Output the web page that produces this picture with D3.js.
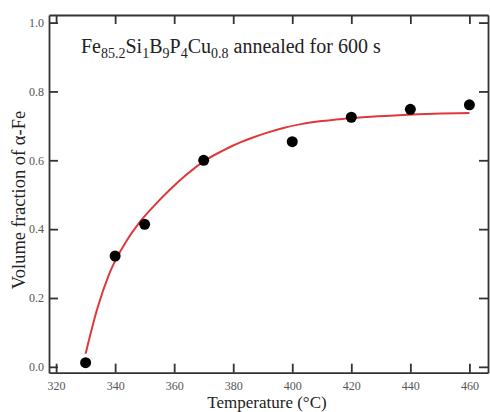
<!DOCTYPE html>
<html>
<head>
<meta charset="utf-8">
<script src="https://cdn.jsdelivr.net/npm/d3@7"></script>
<style>
  body { margin: 0; background: #fff; }
  svg { display: block; }
  text { font-family: "Liberation Serif", "Times New Roman", Times, serif; }
  .tick text { font-size: 12px; fill: #555; }
</style>
</head>
<body>
<svg id="chart" width="490" height="412"></svg>
<script>
// measured points (temperature in °C, volume fraction of alpha-Fe)
const temps = [330, 340, 350, 370, 400, 420, 440, 460]
const fractions = [0.012, 0.322, 0.414, 0.600, 0.654, 0.725, 0.748, 0.761]

// fitted curve
const fitTemps = [330, 334, 338, 344, 348, 353, 358, 364, 370, 376, 380, 386, 391, 397, 403, 410, 418, 425, 436, 448, 460]
const fitValues = [0.038, 0.17, 0.27, 0.368, 0.417, 0.466, 0.510, 0.557, 0.597, 0.626, 0.643, 0.664, 0.679, 0.694, 0.705, 0.714, 0.721, 0.726, 0.731, 0.735, 0.737]

const xTicks = [320, 340, 360, 380, 400, 420, 440, 460]
const yTicks = [0.0, 0.2, 0.4, 0.6, 0.8, 1.0]

const svg = d3.select('#chart')
const plotLeft = 49
const plotRight = 488
const plotTop = 15
const plotBottom = 372.7

const x = d3.scaleLinear().domain([317.6, 466.3]).range([plotLeft, plotRight])
const y = d3.scaleLinear().domain([-0.017, 1.022]).range([plotBottom, plotTop])

// ticks on all four sides, pointing inward
svg.append('g')
  .attr('transform', `translate(0,${plotBottom})`)
  .call(d3.axisBottom(x).tickValues(xTicks).tickSizeInner(-9).tickSizeOuter(0).tickPadding(9).tickFormat(d3.format('d')))
svg.append('g')
  .attr('transform', `translate(0,${plotTop})`)
  .call(d3.axisTop(x).tickValues(xTicks).tickSizeInner(-9).tickSizeOuter(0).tickFormat(''))
svg.append('g')
  .attr('transform', `translate(${plotLeft},0)`)
  .call(d3.axisLeft(y).tickValues(yTicks).tickSizeInner(-9).tickSizeOuter(0).tickPadding(5).tickFormat(d3.format('.1f')))
svg.append('g')
  .attr('transform', `translate(${plotRight},0)`)
  .call(d3.axisRight(y).tickValues(yTicks).tickSizeInner(-9).tickSizeOuter(0).tickFormat(''))

svg.selectAll('.domain').attr('stroke', '#333').attr('stroke-width', 1.8)
svg.selectAll('.tick line').attr('stroke', '#333').attr('stroke-width', 1.8)

// fit line
const line = d3.line()
  .x(d => x(d[0]))
  .y(d => y(d[1]))
  .curve(d3.curveMonotoneX)

svg.append('path')
  .datum(d3.zip(fitTemps, fitValues))
  .attr('d', line)
  .attr('fill', 'none')
  .attr('stroke', '#e0383a')
  .attr('stroke-width', 2)

// measured points
svg.selectAll('circle.pt')
  .data(d3.zip(temps, fractions))
  .join('circle')
  .attr('class', 'pt')
  .attr('cx', d => x(d[0]))
  .attr('cy', d => y(d[1]))
  .attr('r', 5.5)
  .attr('fill', '#000')

// axis titles
svg.append('text')
  .attr('x', 267)
  .attr('y', 408)
  .attr('text-anchor', 'middle')
  .attr('font-size', 17)
  .attr('fill', '#222')
  .text('Temperature (°C)')

svg.append('text')
  .attr('transform', 'translate(25,200) rotate(-90)')
  .attr('text-anchor', 'middle')
  .attr('font-size', 18.5)
  .attr('fill', '#222')
  .text('Volume fraction of α-Fe')

// composition label with subscripts
const parts = [['Fe', false], ['85.2', true], ['Si', false], ['1', true], ['B', false], ['9', true],
  ['P', false], ['4', true], ['Cu', false], ['0.8', true], ['\u00a0annealed for 600 s', false]]
const label = svg.append('text')
  .attr('x', 81)
  .attr('y', 53)
  .attr('font-size', 20)
  .attr('fill', '#222')
label.selectAll('tspan')
  .data(parts)
  .join('tspan')
  .attr('font-size', d => d[1] ? 14 : 20)
  .attr('dy', (d, i) => {
    if (i === 0) return 0
    if (d[1]) return 5
    return parts[i - 1][1] ? -5 : 0
  })
  .text(d => d[0])
</script>
</body>
</html>
